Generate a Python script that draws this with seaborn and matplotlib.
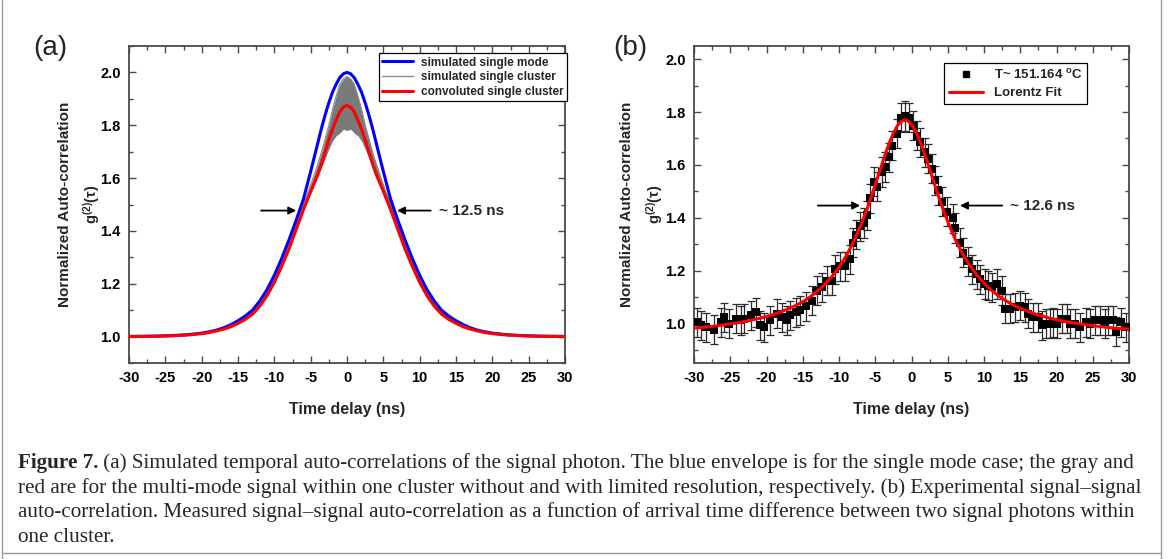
import matplotlib
matplotlib.use("Agg")
import matplotlib.pyplot as plt
import seaborn as sns
from matplotlib.lines import Line2D
from matplotlib.ticker import MultipleLocator

# ---------------- data: panel (a) (symmetric curves, positive half)
tau_a_half = [0, 0.5, 1, 1.5, 2, 2.5, 3, 3.5, 4, 5, 6, 7, 8, 9, 10, 11, 12, 13, 14, 15,
              16, 17, 18, 19, 20, 22, 24, 26, 28, 30]
blue_half = [2.0, 1.995, 1.98, 1.955, 1.925, 1.885, 1.84, 1.79, 1.735, 1.625, 1.52, 1.44,
             1.365, 1.295, 1.232, 1.178, 1.135, 1.10, 1.078, 1.06, 1.045, 1.033, 1.024,
             1.018, 1.013, 1.007, 1.004, 1.002, 1.001, 1.0005]
red_half = [1.875, 1.869, 1.85, 1.82, 1.785, 1.745, 1.70, 1.655, 1.615, 1.55, 1.48, 1.405,
            1.33, 1.265, 1.205, 1.155, 1.115, 1.085, 1.065, 1.05, 1.037, 1.028, 1.021,
            1.015, 1.011, 1.006, 1.003, 1.0015, 1.0008, 1.0004]
gray_hi_half = [1.985, 1.975, 1.955, 1.91, 1.86, 1.80, 1.75, 1.70, 1.655, 1.575, 1.50, 1.425,
                1.348, 1.28, 1.218, 1.166, 1.125, 1.093, 1.071, 1.055, 1.041, 1.031, 1.023,
                1.017, 1.012, 1.0065, 1.0035, 1.0018, 1.0009, 1.0004]
gray_lo_half = [1.78, 1.785, 1.77, 1.76, 1.74, 1.71, 1.675, 1.64, 1.605, 1.54, 1.475, 1.405,
                1.33, 1.265, 1.205, 1.155, 1.115, 1.085, 1.065, 1.05, 1.037, 1.028, 1.021,
                1.015, 1.011, 1.006, 1.003, 1.0015, 1.0008, 1.0004]


def mirror_x(h):
    return [-v for v in reversed(h[1:])] + list(h)


def mirror_y(h):
    return list(reversed(h[1:])) + list(h)


tau_a = mirror_x(tau_a_half)
blue_a = mirror_y(blue_half)
red_a = mirror_y(red_half)
gray_hi_a = mirror_y(gray_hi_half)
gray_lo_a = mirror_y(gray_lo_half)

# ---------------- data: panel (b)
tau_b = [-29.63, -29.08, -28.39, -27.25, -26.33, -25.87, -25.18, -24.27, -23.58, -23.12,
         -22.2, -21.51, -20.83, -20.37, -19.45, -18.53, -17.84, -17.16, -16.7, -16.0,
         -15.32, -14.5, -13.72, -13.03, -12.34, -11.65, -10.96, -10.5, -9.82, -9.13,
         -8.44, -8.12, -7.66, -7.06, -6.61, -6.15, -5.69, -5.23, -4.77, -4.08,
         -3.62, -3.17, -2.71, -2.02, -1.42, -0.87, -0.41, 0.14, 0.73, 1.19,
         1.88, 2.34, 2.8, 3.26, 3.72, 4.27, 4.86, 5.78, 6.01, 6.7,
         7.16, 7.84, 8.3, 8.99, 9.45, 10.14, 10.6, 11.06, 11.74, 12.43,
         12.89, 13.58, 14.27, 14.95, 15.64, 16.1, 16.79, 17.48, 17.94, 18.62,
         19.08, 19.54, 20.0, 20.69, 21.38, 21.83, 22.52, 23.21, 24.13, 24.59,
         25.28, 25.96, 26.65, 27.11, 27.8, 28.26, 28.94, 29.63]
g2_b = [1.005, 0.993, 0.986, 0.976, 1.005, 1.024, 0.999, 1.017, 1.011, 1.017,
        1.030, 1.042, 0.993, 0.986, 1.011, 1.036, 1.024, 1.011, 1.030, 1.042,
        1.049, 1.064, 1.086, 1.124, 1.136, 1.161, 1.161, 1.205, 1.217, 1.217,
        1.242, 1.305, 1.336, 1.367, 1.380, 1.410, 1.473, 1.536, 1.517, 1.573,
        1.592, 1.629, 1.673, 1.717, 1.779, 1.785, 1.779, 1.748, 1.710, 1.685,
        1.648, 1.623, 1.586, 1.542, 1.504, 1.461, 1.423, 1.398, 1.361, 1.305,
        1.267, 1.236, 1.205, 1.186, 1.167, 1.149, 1.142, 1.136, 1.149, 1.124,
        1.055, 1.055, 1.061, 1.067, 1.061, 1.036, 1.024, 1.024, 0.993, 0.999,
        0.999, 1.005, 0.999, 1.017, 1.017, 0.999, 0.999, 0.986, 1.005, 0.999,
        1.011, 1.011, 0.999, 1.011, 1.011, 0.968, 1.005, 0.986]
err_b = 0.055

fit_tau = [-30, -29, -28, -27, -26, -25, -24, -23, -22, -21, -20, -19, -18, -17, -16, -15,
           -14, -13, -12, -11, -10, -9, -8, -7, -6, -5, -4, -3.5, -3, -2.5, -2, -1.5, -1,
           -0.5, 0, 0.5, 1, 1.5, 2, 3, 4, 5, 6, 7, 8, 9, 10, 11, 12, 13, 14, 15, 16, 17,
           18, 19, 20, 21, 22, 23, 24, 25, 26, 27, 28, 29, 30]
fit_g2 = [0.982, 0.985, 0.987, 0.990, 0.994, 0.998, 1.002, 1.007, 1.013, 1.019, 1.026,
          1.034, 1.044, 1.055, 1.067, 1.082, 1.100, 1.121, 1.146, 1.176, 1.212, 1.256,
          1.308, 1.371, 1.443, 1.525, 1.609, 1.650, 1.688, 1.720, 1.746, 1.763, 1.770,
          1.767, 1.753, 1.731, 1.701, 1.665, 1.626, 1.541, 1.459, 1.385, 1.320, 1.266,
          1.220, 1.183, 1.152, 1.126, 1.104, 1.086, 1.070, 1.057, 1.046, 1.036, 1.028,
          1.020, 1.014, 1.008, 1.003, 0.999, 0.995, 0.991, 0.988, 0.985, 0.982, 0.980,
          0.978]

xticks_vals = [-30, -25, -20, -15, -10, -5, 0, 5, 10, 15, 20, 25, 30]

caption_head = "Figure 7."
caption_lines = [
    " (a) Simulated temporal auto-correlations of the signal photon. The blue envelope is for the single mode case; the gray and",
    "red are for the multi-mode signal within one cluster without and with limited resolution, respectively. (b) Experimental signal\u2013signal",
    "auto-correlation. Measured signal\u2013signal auto-correlation as a function of arrival time difference between two signal photons within",
    "one cluster.",
]

# ---------------- style
sns.set_theme(style="ticks")
plt.rcParams["font.family"] = ["Liberation Sans", "DejaVu Sans"]
plt.rcParams["font.weight"] = "bold"
plt.rcParams["axes.labelweight"] = "bold"
plt.rcParams["axes.unicode_minus"] = False
plt.rcParams["mathtext.fontset"] = "custom"
plt.rcParams["mathtext.rm"] = "Liberation Sans:bold"
plt.rcParams["mathtext.bf"] = "Liberation Sans:bold"
plt.rcParams["mathtext.it"] = "Liberation Sans:bold"

W, H = 1168, 559
fig = plt.figure(figsize=(W / 100, H / 100), dpi=100)
fig.patch.set_facecolor("white")
ax_a = fig.add_axes([129 / W, 1 - 363 / H, (565 - 129) / W, (363 - 46) / H])
ax_b = fig.add_axes([694 / W, 1 - 363 / H, (1129 - 694) / W, (363 - 46) / H])

SPINE = "#4a4a4a"


def style(ax, ylim):
    ax.set_xlim(-30, 30)
    ax.set_ylim(*ylim)
    ax.set_xticks(xticks_vals)
    ax.xaxis.set_minor_locator(MultipleLocator(2.5))
    ax.yaxis.set_major_locator(MultipleLocator(0.2))
    ax.yaxis.set_minor_locator(MultipleLocator(0.1))
    for s in ax.spines.values():
        s.set_visible(True)
        s.set_color(SPINE)
        s.set_linewidth(1.3)
    ax.tick_params(which="both", direction="in", top=True, right=True,
                   color=SPINE, width=1.0, labelcolor="black")
    ax.tick_params(which="major", length=5, labelsize=10.5, pad=6)
    ax.tick_params(which="minor", length=3)
    ax.set_xlabel("Time delay (ns)", fontsize=11.5, fontweight="bold", labelpad=12)
    ax.set_ylabel("")
    ax.grid(False)


# ---------------- panel (a)
ax_a.fill_between(tau_a, gray_lo_a, gray_hi_a, color="#7a7a7a", lw=0, zorder=2)
sns.lineplot(x=tau_a, y=gray_hi_a, color="#8a8a8a", lw=0.8, ax=ax_a, sort=False,
             estimator=None, zorder=2)
sns.lineplot(x=tau_a, y=blue_a, color="#0000ff", lw=2.2, ax=ax_a, sort=False,
             estimator=None, zorder=3)
sns.lineplot(x=tau_a, y=red_a, color="#ff0000", lw=2.2, ax=ax_a, sort=False,
             estimator=None, zorder=4)
style(ax_a, (0.9, 2.1))

handles_a = [Line2D([], [], color="#0000ff", lw=2.2),
             Line2D([], [], color="#8a8a8a", lw=1.0),
             Line2D([], [], color="#ff0000", lw=2.2)]
labels_a = ["simulated single mode", "simulated single cluster", "convoluted single cluster"]
leg_a = ax_a.legend(handles_a, labels_a, loc="upper right", bbox_to_anchor=(1.005, 0.978),
                    frameon=True, fancybox=False, edgecolor="black", framealpha=1,
                    prop={"size": 8.5, "weight": "bold"}, handlelength=2.6,
                    borderpad=0.3, labelspacing=0.22, handletextpad=0.7, borderaxespad=0)
leg_a.get_frame().set_linewidth(0.9)

ax_a.annotate("", xy=(-6.6, 1.477), xytext=(-12.2, 1.477),
              arrowprops=dict(arrowstyle="-|>", color="black", lw=1.3, mutation_scale=11))
ax_a.annotate("", xy=(6.5, 1.477), xytext=(11.9, 1.477),
              arrowprops=dict(arrowstyle="-|>", color="black", lw=1.3, mutation_scale=11))
ax_a.text(12.6, 1.477, "~ 12.5 ns", fontsize=11, fontweight="bold", va="center", ha="left")

ax_a.text(-0.147, 0.5, "Normalized Auto-correlation", rotation=90, transform=ax_a.transAxes,
          ha="center", va="center", fontsize=11, fontweight="bold")
ax_a.text(-0.087, 0.5, r"g$^{(2)}$($\tau$)", rotation=90, transform=ax_a.transAxes,
          ha="center", va="center", fontsize=10.5, fontweight="bold")

# ---------------- panel (b)
ax_b.errorbar(tau_b, g2_b, yerr=err_b, fmt="none", ecolor="#2b2b2b", elinewidth=0.9,
              capsize=3, capthick=0.9, zorder=2)
sns.scatterplot(x=tau_b, y=g2_b, marker="s", color="black", s=30, linewidth=0, ax=ax_b,
                zorder=3)
sns.lineplot(x=fit_tau, y=fit_g2, color="#ff0000", lw=2.2, ax=ax_b, sort=False,
             estimator=None, zorder=4)
style(ax_b, (0.85, 2.05))

handles_b = [Line2D([], [], marker="s", color="black", ls="none", ms=5),
             Line2D([], [], color="#ff0000", lw=2.2)]
labels_b = [r"T~ 151.164 $^{\mathrm{o}}$C", "Lorentz Fit"]
leg_b = ax_b.legend(handles_b, labels_b, loc="upper right", bbox_to_anchor=(0.903, 0.946),
                    frameon=True, fancybox=False, edgecolor="black", framealpha=1,
                    prop={"size": 9.5, "weight": "bold"}, handlelength=2.6,
                    borderpad=0.35, labelspacing=0.4, handletextpad=0.8, borderaxespad=0)
leg_b.get_frame().set_linewidth(0.9)

ax_b.annotate("", xy=(-6.7, 1.446), xytext=(-13.3, 1.446),
              arrowprops=dict(arrowstyle="-|>", color="black", lw=1.3, mutation_scale=11))
ax_b.annotate("", xy=(6.3, 1.446), xytext=(12.9, 1.446),
              arrowprops=dict(arrowstyle="-|>", color="black", lw=1.3, mutation_scale=11))
ax_b.text(13.6, 1.446, "~ 12.6 ns", fontsize=11, fontweight="bold", va="center", ha="left")

ax_b.text(-0.154, 0.5, "Normalized Auto-correlation", rotation=90, transform=ax_b.transAxes,
          ha="center", va="center", fontsize=11, fontweight="bold")
ax_b.text(-0.09, 0.5, r"g$^{(2)}$($\tau$)", rotation=90, transform=ax_b.transAxes,
          ha="center", va="center", fontsize=10.5, fontweight="bold")

# ---------------- panel letters
fig.text(33 / W, 1 - 48 / H, "(a)", fontsize=20, fontweight="normal", va="center", ha="left")
fig.text(613 / W, 1 - 48 / H, "(b)", fontsize=20, fontweight="normal", va="center", ha="left")

# ---------------- caption (font size fitted so the first line spans the text block)
serif = ["Liberation Serif", "DejaVu Serif"]
line_y = [463, 488, 512, 537]
x_left, x_right = 18, 1130
fig.canvas.draw()
renderer = fig.canvas.get_renderer()
probe_fs = 13
ph = fig.text(0, 0, caption_head, family=serif, fontweight="bold", fontsize=probe_fs)
pr = fig.text(0, 0, caption_lines[0], family=serif, fontweight="normal", fontsize=probe_fs)
w_probe = ph.get_window_extent(renderer).width + pr.get_window_extent(renderer).width
ph.remove()
pr.remove()
cap_fs = probe_fs * (x_right - x_left) / w_probe

head = fig.text(x_left / W, 1 - line_y[0] / H, caption_head, family=serif, fontweight="bold",
                fontsize=cap_fs, va="center", ha="left")
bb = head.get_window_extent(renderer)
fig.text(bb.x1 / W, 1 - line_y[0] / H, caption_lines[0], family=serif, fontweight="normal",
         fontsize=cap_fs, va="center", ha="left")
for ln, yy in zip(caption_lines[1:], line_y[1:]):
    fig.text(x_left / W, 1 - yy / H, ln, family=serif, fontweight="normal", fontsize=cap_fs,
             va="center", ha="left")

# ---------------- outer frame
for xs, ys in [([1.5 / W, 1.5 / W], [0, 1]), ([1161 / W, 1161 / W], [0, 1]),
               ([1.5 / W, 1161 / W], [1 - 553 / H, 1 - 553 / H])]:
    fig.add_artist(Line2D(xs, ys, transform=fig.transFigure, color="#9a9a9a", lw=1.0))

fig.savefig("out.png", dpi=100, facecolor="white")
